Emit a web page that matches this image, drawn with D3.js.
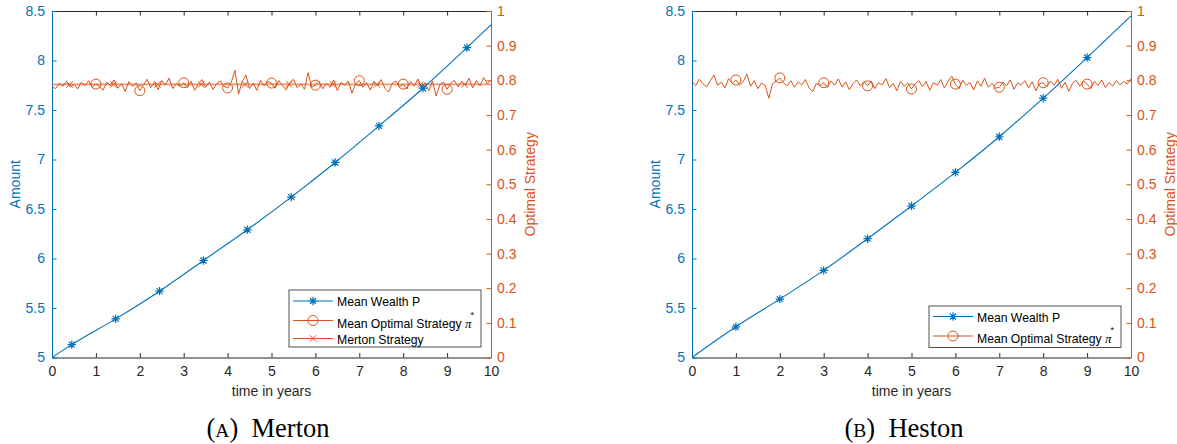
<!DOCTYPE html>
<html>
<head>
<meta charset="utf-8">
<script src="https://cdn.jsdelivr.net/npm/d3@7/dist/d3.min.js"></script>
<style>
  body { margin: 0; background: #fff; }
  svg { display: block; }
  text { font-family: "Liberation Sans", Arial, sans-serif; }
</style>
</head>
<body>
<svg id="chart" width="1177" height="444"></svg>
<script>
// ---- data ----
var xTicks = [0, 1, 2, 3, 4, 5, 6, 7, 8, 9, 10];
var amountTicks = [5, 5.5, 6, 6.5, 7, 7.5, 8, 8.5];
var strategyTicks = [0, 0.1, 0.2, 0.3, 0.4, 0.5, 0.6, 0.7, 0.8, 0.9, 1];

// Merton: mean wealth (markers at every point except the ends)
var mertonWealthT = [0, 0.45, 1.45, 2.45, 3.45, 4.45, 5.45, 6.45, 7.45, 8.45, 9.45, 10];
var mertonWealth = [5, 5.13, 5.39, 5.67, 5.98, 6.29, 6.62, 6.97, 7.34, 7.72, 8.13, 8.36];

// Heston: mean wealth (markers at 1..9)
var hestonWealthT = [0, 1, 2, 3, 4, 5, 6, 7, 8, 9, 10];
var hestonWealth = [5, 5.31, 5.59, 5.88, 6.20, 6.53, 6.87, 7.23, 7.62, 8.03, 8.45];

// mean optimal strategy, monthly (121 points, one row per year)
var strategyStep = 1 / 12;
var mertonStrategy = [
  0.782, 0.776, 0.791, 0.783, 0.797, 0.780, 0.788, 0.775, 0.794, 0.785, 0.799, 0.779,
  0.789, 0.781, 0.772, 0.795, 0.784, 0.801, 0.777, 0.790, 0.768, 0.796, 0.783, 0.792,
  0.770, 0.786, 0.803, 0.779, 0.794, 0.773, 0.799, 0.787, 0.806, 0.776, 0.791, 0.782,
  0.793, 0.778, 0.797, 0.771, 0.789, 0.802, 0.780, 0.795, 0.774, 0.790, 0.798, 0.783,
  0.778, 0.794, 0.829, 0.760, 0.797, 0.815, 0.776, 0.792, 0.771, 0.800, 0.784, 0.796,
  0.792, 0.777, 0.799, 0.785, 0.772, 0.794, 0.803, 0.779, 0.790, 0.774, 0.822, 0.780,
  0.786, 0.797, 0.775, 0.792, 0.781, 0.801, 0.770, 0.794, 0.785, 0.798, 0.763, 0.790,
  0.799, 0.780, 0.793, 0.772, 0.796, 0.784, 0.802, 0.777, 0.766, 0.791, 0.798, 0.781,
  0.789, 0.775, 0.797, 0.783, 0.804, 0.779, 0.793, 0.770, 0.798, 0.755, 0.787, 0.795,
  0.774, 0.792, 0.800, 0.781, 0.797, 0.786, 0.806, 0.778, 0.799, 0.784, 0.808, 0.790,
  0.802
];
var hestonStrategy = [
  0.797, 0.784, 0.803, 0.790, 0.781, 0.799, 0.815, 0.786, 0.794, 0.778, 0.805, 0.791,
  0.801, 0.787, 0.796, 0.818, 0.783, 0.799, 0.776, 0.792, 0.785, 0.748, 0.790, 0.798,
  0.807, 0.793, 0.784, 0.799, 0.780, 0.795, 0.787, 0.802, 0.778, 0.767, 0.791, 0.785,
  0.793, 0.779, 0.798, 0.786, 0.804, 0.781, 0.795, 0.773, 0.790, 0.801, 0.784, 0.796,
  0.784, 0.798, 0.776, 0.793, 0.787, 0.805, 0.779, 0.791, 0.770, 0.797, 0.783, 0.792,
  0.775, 0.790, 0.799, 0.782, 0.796, 0.771, 0.793, 0.786, 0.802, 0.778, 0.797, 0.812,
  0.789, 0.776, 0.800, 0.785, 0.794, 0.772, 0.798, 0.783, 0.806, 0.780, 0.791, 0.777,
  0.780, 0.795, 0.784, 0.801, 0.774, 0.792, 0.787, 0.799, 0.778, 0.796, 0.770, 0.790,
  0.793, 0.781, 0.798, 0.786, 0.803, 0.777, 0.794, 0.768, 0.791, 0.800, 0.783, 0.797,
  0.789, 0.776, 0.797, 0.785, 0.801, 0.779, 0.794, 0.783, 0.799, 0.787, 0.796, 0.790,
  0.805
];
var strategyMarkerT = [1, 2, 3, 4, 5, 6, 7, 8, 9];

// Merton strategy (constant)
var mertonConstT = [0, 10];
var mertonConst = [0.788, 0.788];
var mertonConstMarkerT = [0.4, 1.4, 2.4, 3.4, 4.4, 5.4, 6.4, 7.4, 8.4, 9.4];

var blue = "#0072BD";
var orange = "#D95319";
var axisGray = "#262626";

var svg = d3.select("#chart");

drawPanel({
  left: 52, right: 491, top: 11, bottom: 357.5,
  wealthT: mertonWealthT, wealth: mertonWealth, wealthMarkers: mertonWealthT.slice(1, -1),
  strategy: mertonStrategy, withMerton: true,
  legend: { x: 289, y: 290, w: 192, h: 57, rows: [301, 320.5, 338.5] },
  caption: "Merton", captionLetter: "A", captionX: 268
});

drawPanel({
  left: 692, right: 1131, top: 11, bottom: 357.5,
  wealthT: hestonWealthT, wealth: hestonWealth, wealthMarkers: hestonWealthT.slice(1, -1),
  strategy: hestonStrategy, withMerton: false,
  legend: { x: 929, y: 306, w: 192, h: 41.5, rows: [316.5, 336] },
  caption: "Heston", captionLetter: "B", captionX: 904
});

function asterisk(g, x, y, color){
  var s = 4.2, d = 3;
  g.append("path")
    .attr("d", "M" + (x - s) + "," + y + "H" + (x + s) +
               "M" + x + "," + (y - s) + "V" + (y + s) +
               "M" + (x - d) + "," + (y - d) + "L" + (x + d) + "," + (y + d) +
               "M" + (x - d) + "," + (y + d) + "L" + (x + d) + "," + (y - d))
    .attr("stroke", color).attr("stroke-width", 1.2).attr("fill", "none");
}

function cross(g, x, y, color){
  var d = 3.2;
  g.append("path")
    .attr("d", "M" + (x - d) + "," + (y - d) + "L" + (x + d) + "," + (y + d) +
               "M" + (x - d) + "," + (y + d) + "L" + (x + d) + "," + (y - d))
    .attr("stroke", color).attr("stroke-width", 1).attr("fill", "none");
}

function circle(g, x, y, color){
  g.append("circle").attr("cx", x).attr("cy", y).attr("r", 5)
    .attr("stroke", color).attr("stroke-width", 1).attr("fill", "none");
}

function drawPanel(p){
  var x = d3.scaleLinear().domain([0, 10]).range([p.left, p.right]);
  var yL = d3.scaleLinear().domain([5, 8.5]).range([p.bottom, p.top]);
  var yR = d3.scaleLinear().domain([0, 1]).range([p.bottom, p.top]);
  var fmt = d3.format("~g");
  var g = svg.append("g");

  // x axis bottom + top
  var xb = g.append("g").attr("transform", "translate(0," + p.bottom + ")")
    .call(d3.axisBottom(x).tickValues(xTicks).tickSizeInner(-4.5).tickSizeOuter(0).tickPadding(9).tickFormat(fmt));
  xb.select(".domain").attr("stroke", axisGray);
  xb.selectAll("line").attr("stroke", axisGray);
  xb.selectAll("text").attr("fill", axisGray).attr("font-size", 14);

  var xt = g.append("g").attr("transform", "translate(0," + p.top + ")")
    .call(d3.axisTop(x).tickValues(xTicks).tickSizeInner(-4.5).tickSizeOuter(0).tickFormat(""));
  xt.select(".domain").attr("stroke", axisGray);
  xt.selectAll("line").attr("stroke", axisGray);

  // left axis
  var ya = g.append("g").attr("transform", "translate(" + p.left + ",0)")
    .call(d3.axisLeft(yL).tickValues(amountTicks).tickSizeInner(-4.5).tickSizeOuter(0).tickPadding(7).tickFormat(fmt));
  ya.select(".domain").attr("stroke", blue);
  ya.selectAll("line").attr("stroke", blue);
  ya.selectAll("text").attr("fill", blue).attr("font-size", 14);

  // right axis
  var yb = g.append("g").attr("transform", "translate(" + p.right + ",0)")
    .call(d3.axisRight(yR).tickValues(strategyTicks).tickSizeInner(-4.5).tickSizeOuter(0).tickPadding(6).tickFormat(fmt));
  yb.select(".domain").attr("stroke", orange);
  yb.selectAll("line").attr("stroke", orange);
  yb.selectAll("text").attr("fill", orange).attr("font-size", 14);

  // axis titles
  var midX = (p.left + p.right) / 2, midY = (p.top + p.bottom) / 2;
  g.append("text").attr("x", midX).attr("y", 396).attr("text-anchor", "middle")
    .attr("font-size", 14).attr("fill", axisGray).text("time in years");
  g.append("text").attr("transform", "translate(" + (p.left - 32) + "," + midY + ") rotate(-90)")
    .attr("text-anchor", "middle").attr("font-size", 14).attr("fill", blue).text("Amount");
  g.append("text").attr("transform", "translate(" + (p.right + 44) + "," + midY + ") rotate(-90)")
    .attr("text-anchor", "middle").attr("font-size", 14).attr("fill", orange).text("Optimal Strategy");

  // strategy series (right axis)
  var stratData = p.strategy.map(function(v, i){ return [i * strategyStep, v]; });
  var lineR = d3.line().x(function(d){ return x(d[0]); }).y(function(d){ return yR(d[1]); });
  var lineL = d3.line().x(function(d){ return x(d[0]); }).y(function(d){ return yL(d[1]); });

  if (p.withMerton){
    var constData = mertonConstT.map(function(t, i){ return [t, mertonConst[i]]; });
    g.append("path").attr("d", lineR(constData)).attr("fill", "none")
      .attr("stroke", orange).attr("stroke-opacity", 0.6).attr("stroke-width", 1.8);
    mertonConstMarkerT.forEach(function(t){ cross(g, x(t), yR(mertonConst[0]), orange); });
  }

  g.append("path").attr("d", lineR(stratData)).attr("fill", "none")
    .attr("stroke", orange).attr("stroke-width", 1).attr("stroke-linejoin", "round");
  strategyMarkerT.forEach(function(t){
    var v = p.strategy[Math.round(t / strategyStep)];
    circle(g, x(t), yR(v), orange);
  });

  // wealth (left axis)
  var wealthData = p.wealthT.map(function(t, i){ return [t, p.wealth[i]]; });
  g.append("path").attr("d", lineL.curve(d3.curveMonotoneX)(wealthData)).attr("fill", "none")
    .attr("stroke", blue).attr("stroke-width", 1.1);
  p.wealthMarkers.forEach(function(t){
    var i = p.wealthT.indexOf(t);
    asterisk(g, x(t), yL(p.wealth[i]), blue);
  });

  // legend
  var L = p.legend;
  var lg = g.append("g");
  lg.append("rect").attr("x", L.x).attr("y", L.y).attr("width", L.w).attr("height", L.h)
    .attr("fill", "#fff").attr("stroke", axisGray).attr("stroke-width", 0.8);
  var sx0 = L.x + 4, sx1 = L.x + 44, sxm = (sx0 + sx1) / 2, tx = L.x + 48;
  var labels = ["Mean Wealth P", "Mean Optimal Strategy ", "Merton Strategy"];
  L.rows.forEach(function(ry, i){
    var col = i === 0 ? blue : orange;
    lg.append("line").attr("x1", sx0).attr("x2", sx1).attr("y1", ry).attr("y2", ry)
      .attr("stroke", col).attr("stroke-width", 1);
    if (i === 0) asterisk(lg, sxm, ry, blue);
    if (i === 1) circle(lg, sxm, ry, orange);
    if (i === 2) cross(lg, sxm, ry, orange);
    var t = lg.append("text").attr("x", tx).attr("y", ry + (i === 1 ? 7 : 5))
      .attr("font-size", 12.2).attr("fill", "#000").text(labels[i]);
    if (i === 1){
      t.append("tspan").style("font-family", "'Liberation Serif', serif").style("font-style", "italic")
        .attr("font-size", 13).text("\u03C0");
      t.append("tspan").attr("font-size", 9).attr("dy", -10).attr("dx", -1).text("*");
    }
  });

  // caption
  var cap = svg.append("text").attr("x", p.captionX).attr("y", 437).attr("text-anchor", "middle")
    .style("font-family", "'Liberation Serif', 'Times New Roman', serif").attr("font-size", 26.5).attr("fill", "#000");
  cap.append("tspan").text("(");
  cap.append("tspan").attr("font-size", 19.5).text(p.captionLetter);
  cap.append("tspan").text(")\u2002" + p.caption);
}
</script>
</body>
</html>
